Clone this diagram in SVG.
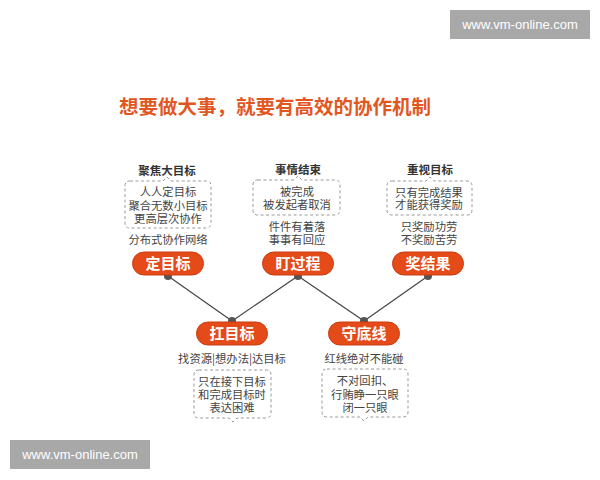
<svg xmlns="http://www.w3.org/2000/svg" width="600" height="480" viewBox="0 0 600 480">
<defs>
<style>
text{font-family:"Noto Sans CJK SC","Noto Sans",sans-serif;text-anchor:middle}
.title{font-size:19.5px;font-weight:bold;fill:#e2571f}
.head{font-size:11.5px;font-weight:bold;fill:#333}
.lbl{font-size:11.3px;fill:#444}
.pill{fill:#e44b18;stroke:#c93d10;stroke-width:1}
.ptxt{font-size:15px;font-weight:bold;fill:#fff}
.box{fill:none;stroke:#9a9a9a;stroke-width:1;stroke-dasharray:3 2.5}
.dot{fill:#555}
.wm{fill:#a8a8a8}
.wmt{font-family:"Liberation Sans",Arial,sans-serif;font-size:13px;fill:#fff}
</style>
</defs>
<rect width="600" height="480" fill="#fff"/>
<g id="watermarks">
<rect class="wm" x="450" y="10" width="140" height="29"/>
<text class="wmt" x="520" y="29">www.vm-online.com</text>
<rect class="wm" x="10" y="440" width="140" height="29"/>
<text class="wmt" x="80" y="459">www.vm-online.com</text>
</g>
<text class="title" x="275" y="114">想要做大事，就要有高效的协作机制</text>
<g id="connectors" stroke="#444" stroke-width="1.2" fill="none">
<line x1="168" y1="276" x2="232" y2="321"/>
<line x1="298" y1="276" x2="232" y2="321"/>
<line x1="298" y1="276" x2="364" y2="321"/>
<line x1="428" y1="276" x2="364" y2="321"/>
</g>
<g id="node-dingmubiao">
<text class="head" x="167" y="175">聚焦大目标</text>
<path class="box" d="M130,181 L163,181 L167,177 L171,181 L206,181 Q211,181 211,186 L211,223 Q211,228 206,228 L130,228 Q125,228 125,223 L125,186 Q125,181 130,181 Z"/>
<text class="lbl" x="168" y="196">人人定目标</text>
<text class="lbl" x="168" y="210">聚合无数小目标</text>
<text class="lbl" x="168" y="223">更高层次协作</text>
<text class="lbl" x="168" y="244">分布式协作网络</text>
<circle class="dot" cx="168" cy="276" r="4"/>
<rect class="pill" x="132.5" y="252" width="71" height="23" rx="11.5"/>
<text class="ptxt" x="168" y="269">定目标</text>
</g>
<g id="node-dingguocheng">
<text class="head" x="298" y="174">事情结束</text>
<path class="box" d="M258,180 L294,180 L298,176 L302,180 L335,180 Q340,180 340,185 L340,210 Q340,215 335,215 L258,215 Q253,215 253,210 L253,185 Q253,180 258,180 Z"/>
<text class="lbl" x="297" y="196">被完成</text>
<text class="lbl" x="297" y="209">被发起者取消</text>
<text class="lbl" x="297" y="231">件件有着落</text>
<text class="lbl" x="297" y="244">事事有回应</text>
<circle class="dot" cx="298" cy="276" r="4"/>
<rect class="pill" x="262.5" y="252" width="71" height="23" rx="11.5"/>
<text class="ptxt" x="298" y="269">盯过程</text>
</g>
<g id="node-jiangjieguo">
<text class="head" x="430" y="174">重视目标</text>
<path class="box" d="M392,181 L426,181 L430,177 L434,181 L467,181 Q472,181 472,186 L472,210 Q472,215 467,215 L392,215 Q387,215 387,210 L387,186 Q387,181 392,181 Z"/>
<text class="lbl" x="429" y="197">只有完成结果</text>
<text class="lbl" x="429" y="209">才能获得奖励</text>
<text class="lbl" x="429" y="231">只奖励功劳</text>
<text class="lbl" x="429" y="244">不奖励苦劳</text>
<circle class="dot" cx="428" cy="276" r="4"/>
<rect class="pill" x="392.5" y="252" width="71" height="23" rx="11.5"/>
<text class="ptxt" x="428" y="269">奖结果</text>
</g>
<g id="node-kangmubiao">
<circle class="dot" cx="232" cy="321" r="4"/>
<rect class="pill" x="196.5" y="322" width="71" height="23" rx="11.5"/>
<text class="ptxt" x="232" y="339">扛目标</text>
<text class="lbl" x="232" y="363">找资源|想办法|达目标</text>
<path class="box" d="M199,370 L266,370 Q271,370 271,375 L271,413 Q271,418 266,418 L237,418 L233,422 L229,418 L199,418 Q194,418 194,413 L194,375 Q194,370 199,370 Z"/>
<text class="lbl" x="232" y="386">只在接下目标</text>
<text class="lbl" x="232" y="399">和完成目标时</text>
<text class="lbl" x="232" y="412">表达困难</text>
</g>
<g id="node-shoudixian">
<circle class="dot" cx="364" cy="321" r="4"/>
<rect class="pill" x="328.5" y="322" width="71" height="23" rx="11.5"/>
<text class="ptxt" x="364" y="339">守底线</text>
<text class="lbl" x="364" y="363">红线绝对不能碰</text>
<path class="box" d="M327,369 L403,369 Q408,369 408,374 L408,412 Q408,417 403,417 L368,417 L364,421 L360,417 L327,417 Q322,417 322,412 L322,374 Q322,369 327,369 Z"/>
<text class="lbl" x="365" y="385">不对回扣、</text>
<text class="lbl" x="365" y="399">行贿睁一只眼</text>
<text class="lbl" x="365" y="412">闭一只眼</text>
</g>
</svg>
